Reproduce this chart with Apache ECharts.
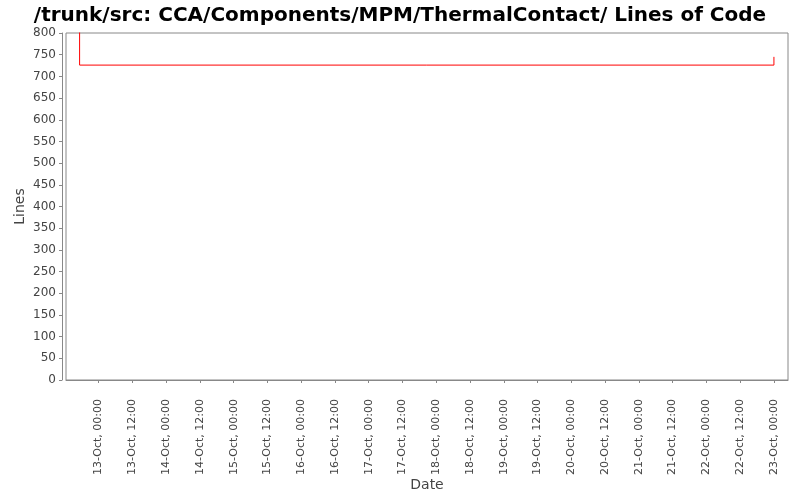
<!DOCTYPE html>
<html><head><meta charset="utf-8">
<script src="https://cdn.jsdelivr.net/npm/echarts@6/dist/echarts.min.js"></script>
<style>html,body{margin:0;padding:0;background:#fff}#c{width:800px;height:500px}</style>
</head><body><div id="c"></div>
<script>
var titleText = '/trunk/src: CCA/Components/MPM/ThermalContact/ Lines of Code';
var dates = ['2008-10-12T12:25:00', '2008-10-12T17:15:00', '2008-10-23T00:00:00'];
var lines = [850, 726, 745];
var tickTimes = ['2008-10-13T00:00:00','2008-10-13T12:00:00','2008-10-14T00:00:00','2008-10-14T12:00:00',
  '2008-10-15T00:00:00','2008-10-15T12:00:00','2008-10-16T00:00:00','2008-10-16T12:00:00',
  '2008-10-17T00:00:00','2008-10-17T12:00:00','2008-10-18T00:00:00','2008-10-18T12:00:00',
  '2008-10-19T00:00:00','2008-10-19T12:00:00','2008-10-20T00:00:00','2008-10-20T12:00:00',
  '2008-10-21T00:00:00','2008-10-21T12:00:00','2008-10-22T00:00:00','2008-10-22T12:00:00',
  '2008-10-23T00:00:00'];
var tickLabels = ['13-Oct, 00:00','13-Oct, 12:00','14-Oct, 00:00','14-Oct, 12:00',
  '15-Oct, 00:00','15-Oct, 12:00','16-Oct, 00:00','16-Oct, 12:00',
  '17-Oct, 00:00','17-Oct, 12:00','18-Oct, 00:00','18-Oct, 12:00',
  '19-Oct, 00:00','19-Oct, 12:00','20-Oct, 00:00','20-Oct, 12:00',
  '21-Oct, 00:00','21-Oct, 12:00','22-Oct, 00:00','22-Oct, 12:00',
  '23-Oct, 00:00'];
var xMin = '2008-10-12T12:25:00', xMax = '2008-10-23T05:00:00';

var ts = function (s) { return new Date(s).getTime(); };
var tickVals = tickTimes.map(ts);
var chart = echarts.init(document.getElementById('c'), null, {renderer: 'canvas'});
chart.setOption({
  animation: false,
  backgroundColor: '#fff',
  title: {text: titleText, left: 'center', top: 1,
    textStyle: {fontFamily: 'DejaVu Sans', fontWeight: 'bold', fontSize: 20, color: '#000'}},
  grid: {left: 66, right: 12, top: 33, bottom: 120, show: true, borderColor: '#888', borderWidth: 1, backgroundColor: '#fff'},
  xAxis: {
    type: 'value', min: ts(xMin), max: ts(xMax), offset: 4,
    name: 'Date', nameLocation: 'middle', nameGap: 94, nameMoveOverlap: false,
    nameTextStyle: {fontFamily: 'DejaVu Sans', fontSize: 14, color: '#444'},
    axisLine: {show: true, lineStyle: {color: '#888'}},
    axisTick: {show: true, length: 3, lineStyle: {color: '#888'}, customValues: tickVals},
    axisLabel: {rotate: 90, margin: 15, fontFamily: 'DejaVu Sans', fontSize: 11, color: '#444',
      customValues: tickVals,
      formatter: function (v) { var i = tickVals.indexOf(v); return i >= 0 ? tickLabels[i] : ''; }},
    splitLine: {show: false}
  },
  yAxis: {
    type: 'value', min: 0, max: 800, interval: 50, offset: 4,
    name: 'Lines', nameLocation: 'middle', nameGap: 35, nameMoveOverlap: false,
    nameTextStyle: {fontFamily: 'DejaVu Sans', fontSize: 14, color: '#444'},
    axisLine: {show: true, lineStyle: {color: '#888'}},
    axisTick: {show: true, length: 3, lineStyle: {color: '#888'}},
    axisLabel: {margin: 6, fontFamily: 'DejaVu Sans', fontSize: 12, color: '#444'},
    splitLine: {show: false}
  },
  series: [{
    type: 'line', step: 'end', showSymbol: false, clip: true,
    lineStyle: {color: '#ff0000', width: 1},
    data: dates.map(function (d, i) { return [ts(d), lines[i]]; })
  }]
});
</script></body></html>
